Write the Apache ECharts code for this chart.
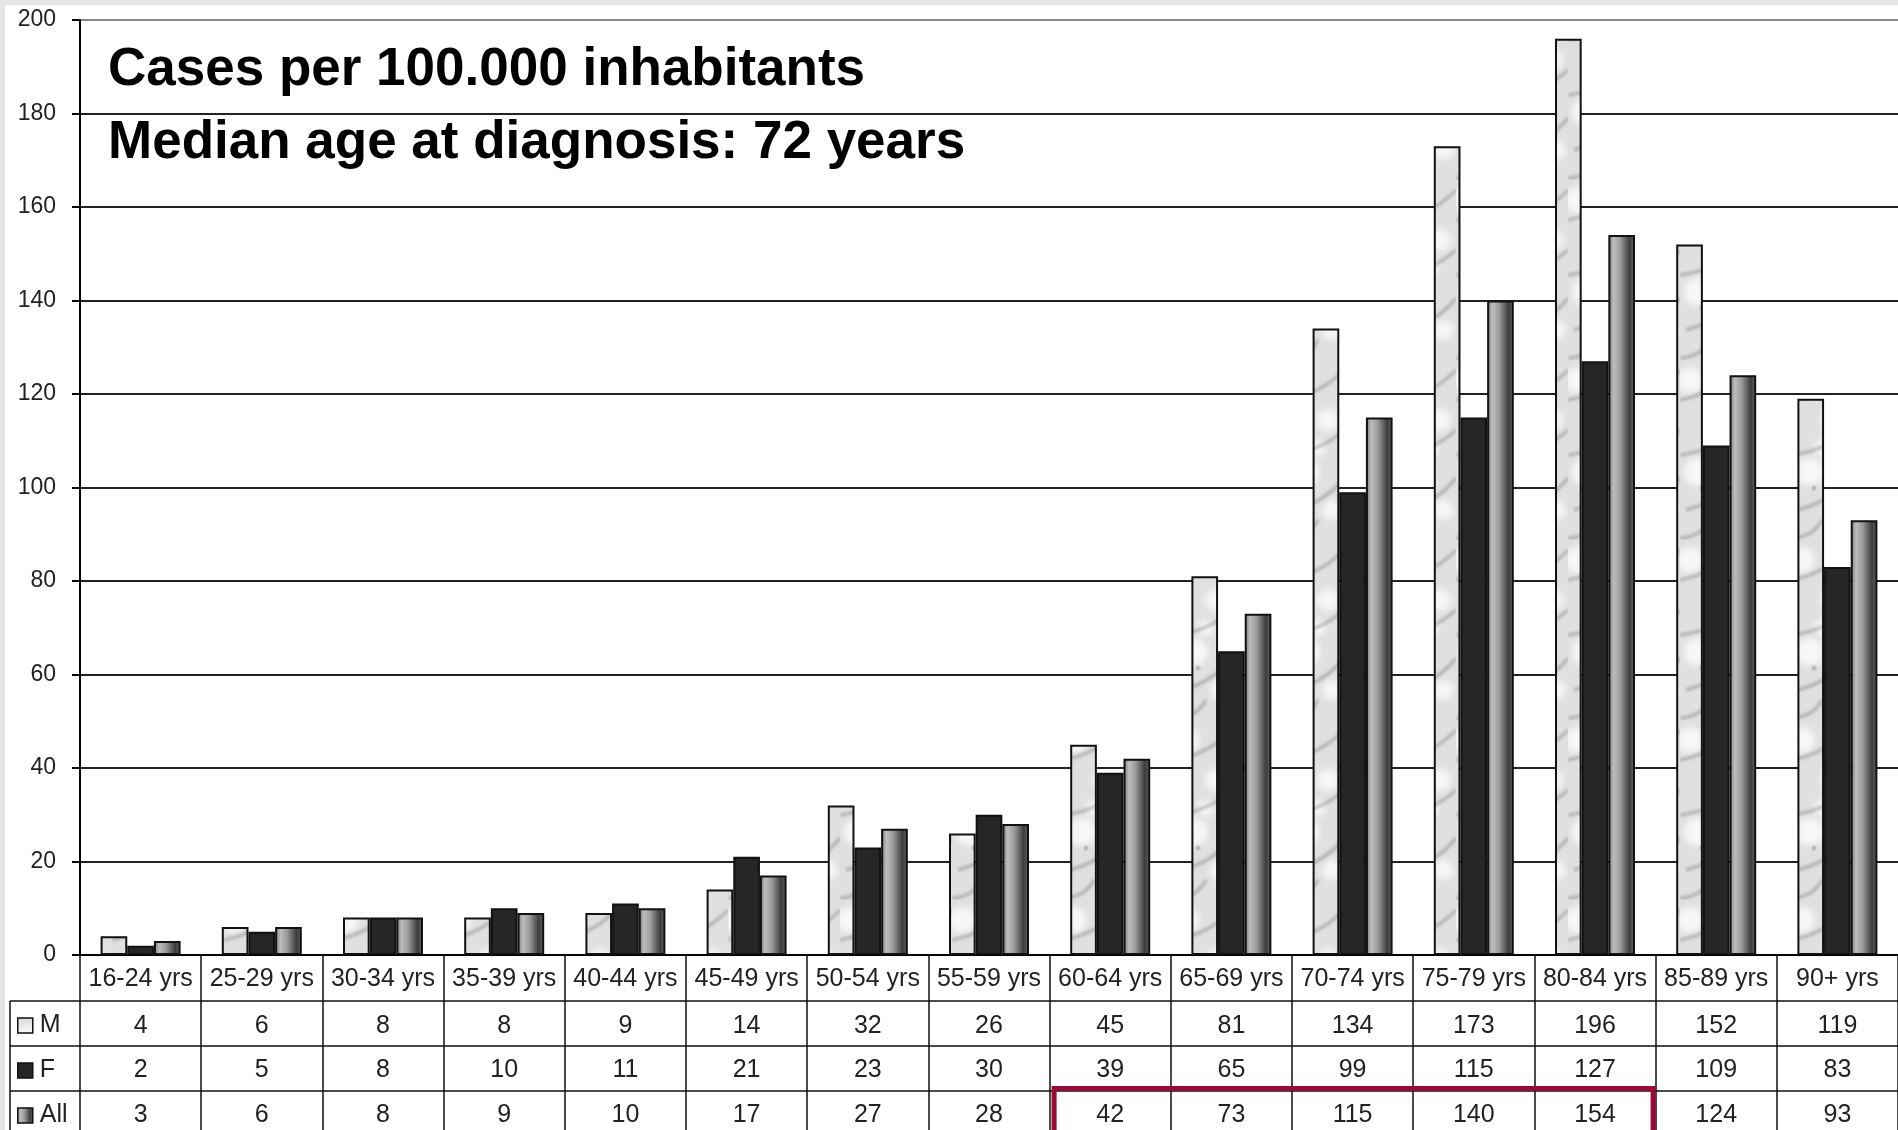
<!DOCTYPE html>
<html>
<head>
<meta charset="utf-8">
<script src="https://cdn.jsdelivr.net/npm/echarts@6/dist/echarts.min.js"></script>
<style>
html,body{margin:0;padding:0;background:#fff;}
#chart{width:1898px;height:1130px;}
</style>
</head>
<body>
<div id="chart"></div>
<script>
// ---------- data ----------
const categories = ['16-24 yrs','25-29 yrs','30-34 yrs','35-39 yrs','40-44 yrs','45-49 yrs','50-54 yrs','55-59 yrs','60-64 yrs','65-69 yrs','70-74 yrs','75-79 yrs','80-84 yrs','85-89 yrs','90+ yrs'];
const maleValues   = [4, 6, 8, 8, 9, 14, 32, 26, 45, 81, 134, 173, 196, 152, 119];
const femaleValues = [2, 5, 8, 10, 11, 21, 23, 30, 39, 65, 99, 115, 127, 109, 83];
const allValues    = [3, 6, 8, 9, 10, 17, 27, 28, 42, 73, 115, 140, 154, 124, 93];
const seriesNames  = ['M', 'F', 'All'];
const yMin = 0, yMax = 200, yInterval = 20;
const titleLines = ['Cases per 100.000 inhabitants', 'Median age at diagnosis: 72 years'];
const highlightRange = ['60-64 yrs', '80-84 yrs'];

// ---------- styles ----------
const FONT = 'Liberation Sans, Arial, sans-serif';
const GRID_LEFT = 80, GRID_TOP = 20, GRID_BOTTOM = 175;
const FIRST_ROW = 46, ROW_H = 45;

// soft marble-like texture for M bars (deterministic)
function marble() {
  const W = 56, H = 180;
  const c = document.createElement('canvas');
  c.width = W; c.height = H;
  const g = c.getContext('2d');
  g.fillStyle = '#e0e0e0';
  g.fillRect(0, 0, W, H);
  g.filter = 'blur(3px)';
  const blobs = [[10, 20, 13], [40, 60, 11], [18, 112, 14], [44, 150, 10], [30, 88, 8]];
  blobs.forEach(b => {
    g.fillStyle = 'rgba(250,250,250,0.85)';
    g.beginPath(); g.arc(b[0], b[1], b[2], 0, Math.PI * 2); g.fill();
  });
  g.filter = 'blur(1.6px)';
  g.strokeStyle = 'rgba(140,140,140,0.6)';
  g.lineWidth = 3;
  const streaks = [[0, 40, 56, 10], [0, 95, 56, 70], [6, 150, 56, 118], [0, 178, 30, 160]];
  streaks.forEach(s => {
    g.beginPath();
    g.moveTo(s[0], s[1]);
    g.quadraticCurveTo((s[0] + s[2]) / 2 + 6, (s[1] + s[3]) / 2 + 8, s[2], s[3]);
    g.stroke();
  });
  g.filter = 'blur(1px)';
  g.fillStyle = 'rgba(110,110,110,0.6)';
  g.beginPath(); g.arc(22, 128, 2, 0, Math.PI * 2); g.fill();
  return c;
}

const mColor = { image: marble(), repeat: 'repeat' };
const fColor = '#262626';
const allColor = new echarts.graphic.LinearGradient(0, 0, 1, 0, [
  { offset: 0, color: '#767676' },
  { offset: 0.2, color: '#bdbdbd' },
  { offset: 0.45, color: '#9a9a9a' },
  { offset: 0.8, color: '#3c3c3c' },
  { offset: 1, color: '#6a6a6a' }
]);
const seriesColors = [mColor, fColor, allColor];
const seriesData = [maleValues, femaleValues, allValues];

function rowAxis(values, offset, tickLen, margin) {
  return {
    type: 'category',
    data: categories,
    gridIndex: 0,
    position: 'bottom',
    offset: offset,
    boundaryGap: true,
    axisLine: { show: true, onZero: false, lineStyle: { color: '#111', width: 1.5 } },
    axisTick: { show: true, interval: 0, length: tickLen, lineStyle: { color: '#111', width: 1.5 } },
    axisLabel: {
      show: true, interval: 0, margin: margin, fontSize: 25, lineHeight: 26,
      color: '#222', fontFamily: FONT,
      formatter: values ? (v, i) => String(values[i]) : (v) => v
    },
    splitLine: { show: false }
  };
}

const xAxes = [
  Object.assign(rowAxis(null, 0, FIRST_ROW, 11), {
    axisLine: { show: true, onZero: false, lineStyle: { color: '#000', width: 2 } }
  }),
  rowAxis(maleValues, FIRST_ROW, ROW_H, 12),
  rowAxis(femaleValues, FIRST_ROW + ROW_H, ROW_H, 11),
  rowAxis(allValues, FIRST_ROW + 2 * ROW_H, ROW_H, 11)
];

const gridColors = [];
for (let v = yMin; v <= yMax; v += yInterval) gridColors.push(v === yMax ? '#8c8c8c' : '#222');

const legends = seriesNames.map((n, i) => ({
  data: [n],
  left: 17,
  top: GRID_TOP,
  orient: 'horizontal',
  padding: 0,
  itemWidth: 15,
  itemHeight: 15,
  selectedMode: false,
  icon: 'rect',
  itemStyle: { borderColor: '#111', borderWidth: 1.5 },
  textStyle: { fontSize: 25, lineHeight: 26, color: '#222', fontFamily: FONT, padding: [0, 0, 0, 2] }
}));

const chart = echarts.init(document.getElementById('chart'), null, { renderer: 'canvas' });

const option = {
  animation: false,
  backgroundColor: '#fff',
  textStyle: { fontFamily: FONT },
  title: {
    text: titleLines.join('\n'),
    left: 108,
    top: 34,
    padding: 0,
    textStyle: { fontSize: 53, fontWeight: 'bold', lineHeight: 73, color: '#000', fontFamily: FONT }
  },
  legend: legends,
  grid: { left: GRID_LEFT, top: GRID_TOP, right: -1, bottom: GRID_BOTTOM, containLabel: false },
  xAxis: xAxes,
  yAxis: {
    type: 'value',
    min: yMin, max: yMax, interval: yInterval,
    axisLine: { show: true, lineStyle: { color: '#000', width: 2 } },
    axisTick: { show: true, length: 8, lineStyle: { color: '#000', width: 2 } },
    axisLabel: { fontSize: 23, color: '#222', margin: 24, fontFamily: FONT },
    splitLine: { show: true, lineStyle: { color: gridColors, width: 2 } }
  },
  series: seriesNames.map((n, i) => ({
    name: n,
    type: 'bar',
    xAxisIndex: 0,
    data: seriesData[i],
    barGap: '0%',
    barCategoryGap: '34%',
    itemStyle: { color: seriesColors[i], borderColor: '#111', borderWidth: 2 },
    emphasis: { disabled: true }
  }))
};

chart.setOption(option);

// place legends, table borders and highlight box using the library's coordinate conversion
const axisY = chart.convertToPixel({ yAxisIndex: 0 }, yMin);
const rowTops = [axisY + FIRST_ROW, axisY + FIRST_ROW + ROW_H, axisY + FIRST_ROW + 2 * ROW_H];
const c0 = chart.convertToPixel({ xAxisIndex: 0 }, categories[0]);
const c1 = chart.convertToPixel({ xAxisIndex: 0 }, categories[1]);
const band = c1 - c0;
const hx0 = chart.convertToPixel({ xAxisIndex: 0 }, highlightRange[0]) - band / 2;
const hx1 = chart.convertToPixel({ xAxisIndex: 0 }, highlightRange[1]) + band / 2;

const legendUpdate = seriesNames.map((n, i) => ({ top: rowTops[i] + ROW_H / 2 - 11 }));

const graphics = [
  { type: 'rect', shape: { x: 0, y: 0, width: 1898, height: 5 }, style: { fill: '#e6e6e6' }, z: 100 },
  { type: 'rect', shape: { x: 0, y: 0, width: 5, height: 1130 }, style: { fill: '#e6e6e6' }, z: 100 },
  { type: 'line', shape: { x1: 10, y1: rowTops[0], x2: 10, y2: 1140 }, style: { stroke: '#111', lineWidth: 1.5 } }
];
rowTops.forEach(y => graphics.push({ type: 'line', shape: { x1: 10, y1: y, x2: GRID_LEFT, y2: y }, style: { stroke: '#111', lineWidth: 1.5 } }));
graphics.push({
  type: 'rect',
  shape: { x: hx0 + 4.5, y: rowTops[2] - 2.5, width: (hx1 - 2.5) - (hx0 + 4.5), height: 80 },
  style: { fill: 'none', stroke: '#9a0a36', lineWidth: 5 },
  z: 50
});

chart.setOption({ legend: legendUpdate, graphic: graphics });
</script>
</body>
</html>
